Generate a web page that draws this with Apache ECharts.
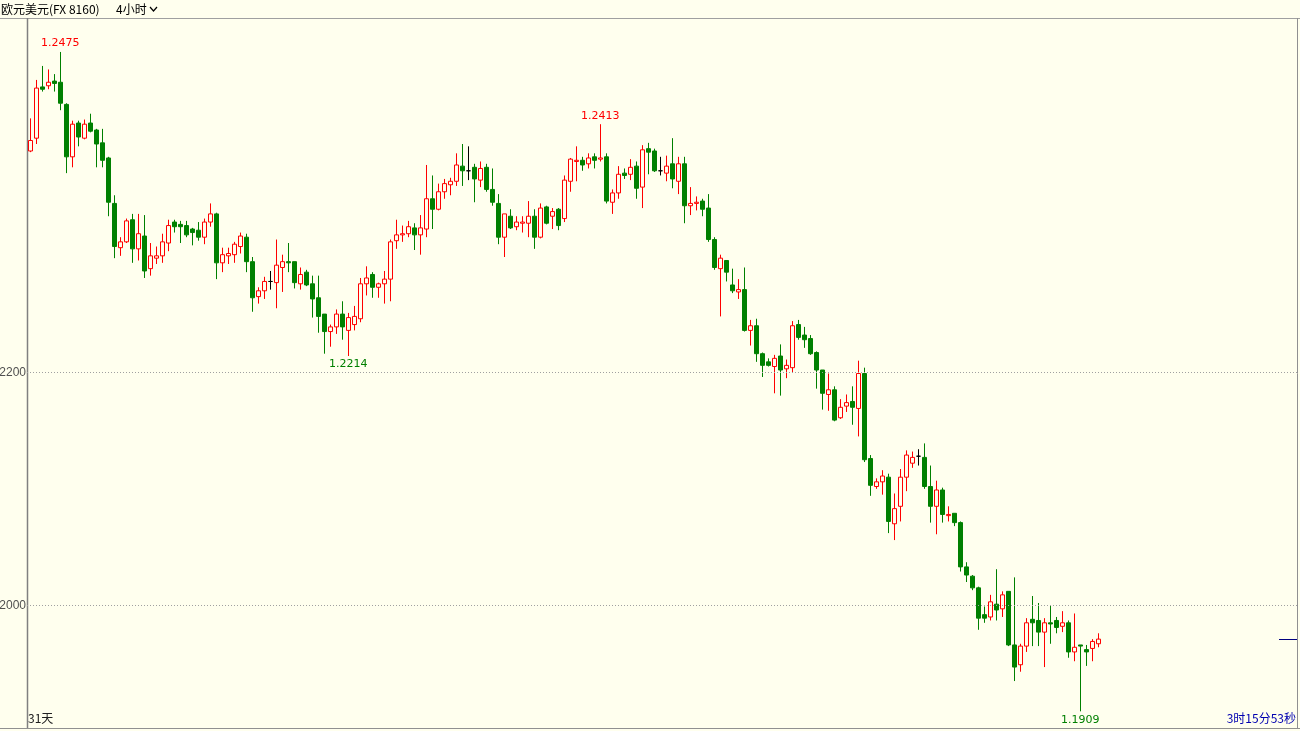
<!DOCTYPE html>
<html><head><meta charset="utf-8">
<script src="https://cdn.jsdelivr.net/npm/echarts@6/dist/echarts.min.js"></script>
<style>html,body{margin:0;padding:0;background:#FFFFEE;overflow:hidden}#c{width:1300px;height:731px}</style>
</head><body><div id="c"></div>
<script>
// ---- data (EUR/USD, 4h candles) ----
const opens = [
1.2390,1.2401,1.2445,1.2446,1.2450,1.2449,1.2430,1.2385,1.2414,1.2401,
1.2414,1.2408,1.2397,1.2384,1.2345,1.2307,1.2312,1.2331,1.2306,1.2317,
1.2289,1.2298,1.2300,1.2311,1.2329,1.2327,1.2326,1.2323,1.2322,1.2316,
1.2329,1.2336,1.2294,1.2300,1.2301,1.2308,1.2316,1.2295,1.2265,1.2270,
1.2278,1.2277,1.2290,1.2295,1.2295,1.2276,1.2286,1.2276,1.2264,1.2250,
1.2235,1.2239,1.2250,1.2236,1.2241,1.2246,1.2276,1.2284,1.2273,1.2276,
1.2280,1.2313,1.2318,1.2319,1.2324,1.2318,1.2323,1.2349,1.2340,1.2355,
1.2361,1.2364,1.2377,1.2373,1.2376,1.2365,1.2376,1.2357,1.2345,1.2316,
1.2334,1.2325,1.2328,1.2328,1.2334,1.2316,1.2342,1.2334,1.2340,1.2332,
1.2364,1.2381,1.2382,1.2379,1.2385,1.2383,1.2385,1.2346,1.2354,1.2371,
1.2370,1.2377,1.2359,1.2392,1.2390,1.2373,1.2371,1.2379,1.2364,1.2379,
1.2343,1.2345,1.2347,1.2341,1.2314,1.2289,1.2296,1.2275,1.2269,1.2271,
1.2236,1.2240,1.2216,1.2209,1.2205,1.2214,1.2203,1.2204,1.2241,1.2232,
1.2229,1.2217,1.2202,1.2181,1.2185,1.2161,1.2171,1.2175,1.2169,1.2199,
1.2126,1.2102,1.2106,1.2110,1.2070,1.2085,1.2110,1.2122,1.2128,1.2127,
1.2102,1.2085,1.2099,1.2077,1.2079,1.2071,1.2033,1.2025,1.2015,1.1992,
1.1990,1.2001,1.1997,1.2012,1.1966,1.1949,1.1965,1.1988,1.1987,1.1977,
1.1985,1.1987,1.1982,1.1985,1.1960,1.1966,1.1962,1.1963,1.1967];
const closes = [
1.2399,1.2444,1.2443,1.2449,1.2448,1.2431,1.2385,1.2413,1.2402,1.2413,
1.2407,1.2396,1.2382,1.2346,1.2308,1.2312,1.2330,1.2306,1.2319,1.2287,
1.2300,1.2300,1.2312,1.2326,1.2325,1.2325,1.2318,1.2320,1.2316,1.2329,
1.2336,1.2294,1.2301,1.2302,1.2310,1.2317,1.2295,1.2264,1.2270,1.2278,
1.2278,1.2292,1.2295,1.2294,1.2277,1.2284,1.2275,1.2263,1.2248,1.2235,
1.2239,1.2250,1.2239,1.2247,1.2248,1.2276,1.2281,1.2273,1.2276,1.2280,
1.2312,1.2318,1.2319,1.2325,1.2318,1.2324,1.2349,1.2340,1.2355,1.2362,
1.2364,1.2378,1.2373,1.2373,1.2366,1.2375,1.2357,1.2346,1.2316,1.2336,
1.2324,1.2329,1.2329,1.2334,1.2316,1.2341,1.2328,1.2338,1.2326,1.2365,
1.2383,1.2382,1.2378,1.2384,1.2382,1.2384,1.2347,1.2354,1.2370,1.2369,
1.2376,1.2358,1.2391,1.2389,1.2373,1.2373,1.2377,1.2366,1.2379,1.2343,
1.2345,1.2346,1.2340,1.2314,1.2290,1.2298,1.2286,1.2270,1.2271,1.2236,
1.2240,1.2216,1.2206,1.2206,1.2212,1.2202,1.2206,1.2240,1.2230,1.2228,
1.2216,1.2202,1.2182,1.2185,1.2159,1.2170,1.2174,1.2170,1.2199,1.2125,
1.2103,1.2106,1.2111,1.2072,1.2083,1.2110,1.2129,1.2127,1.2128,1.2102,
1.2085,1.2099,1.2078,1.2078,1.2071,1.2033,1.2026,1.2015,1.1989,1.1989,
1.2003,1.1996,1.2009,1.1966,1.1947,1.1965,1.1985,1.1985,1.1977,1.1985,
1.1984,1.1981,1.1985,1.1960,1.1964,1.1965,1.1960,1.1969,1.1971];
const lows = [
1.2389,1.2396,1.2441,1.2443,1.2441,1.2425,1.2371,1.2376,1.2394,1.2400,
1.2406,1.2376,1.2376,1.2334,1.2298,1.2300,1.2311,1.2294,1.2296,1.2281,
1.2283,1.2293,1.2294,1.2304,1.2320,1.2311,1.2316,1.2309,1.2313,1.2310,
1.2325,1.2280,1.2286,1.2293,1.2294,1.2302,1.2286,1.2252,1.2259,1.2263,
1.2271,1.2255,1.2269,1.2286,1.2272,1.2271,1.2274,1.2247,1.2234,1.2216,
1.2222,1.2233,1.2228,1.2214,1.2236,1.2243,1.2266,1.2264,1.2264,1.2259,
1.2261,1.2306,1.2312,1.2316,1.2305,1.2301,1.2316,1.2323,1.2339,1.2349,
1.2352,1.2360,1.2360,1.2365,1.2346,1.2359,1.2355,1.2343,1.2310,1.2299,
1.2323,1.2322,1.2320,1.2316,1.2306,1.2315,1.2327,1.2323,1.2322,1.2329,
1.2355,1.2364,1.2373,1.2375,1.2375,1.2381,1.2345,1.2336,1.2349,1.2366,
1.2365,1.2349,1.2341,1.2370,1.2372,1.2369,1.2364,1.2358,1.2353,1.2328,
1.2335,1.2339,1.2334,1.2312,1.2288,1.2248,1.2278,1.2268,1.2263,1.2235,
1.2223,1.2209,1.2196,1.2205,1.2182,1.2180,1.2195,1.2200,1.2228,1.2221,
1.2215,1.2186,1.2168,1.2167,1.2158,1.2160,1.2166,1.2155,1.2145,1.2123,
1.2094,1.2100,1.2095,1.2062,1.2056,1.2072,1.2098,1.2118,1.2120,1.2100,
1.2071,1.2061,1.2071,1.2072,1.2068,1.2029,1.2020,1.2013,1.1979,1.1985,
1.1987,1.1987,1.1990,1.1965,1.1935,1.1943,1.1960,1.1965,1.1965,1.1947,
1.1967,1.1976,1.1977,1.1955,1.1952,1.1909,1.1948,1.1952,1.1964];
const highs = [
1.2418,1.2451,1.2463,1.2460,1.2456,1.2475,1.2431,1.2416,1.2416,1.2417,
1.2422,1.2409,1.2409,1.2385,1.2352,1.2316,1.2332,1.2336,1.2336,1.2335,
1.2311,1.2308,1.2319,1.2331,1.2331,1.2330,1.2330,1.2324,1.2329,1.2332,
1.2345,1.2337,1.2307,1.2307,1.2312,1.2320,1.2319,1.2299,1.2273,1.2282,
1.2287,1.2314,1.2301,1.2311,1.2295,1.2290,1.2288,1.2283,1.2283,1.2250,
1.2241,1.2254,1.2261,1.2251,1.2257,1.2281,1.2291,1.2286,1.2277,1.2287,
1.2314,1.2331,1.2326,1.2330,1.2328,1.2335,1.2378,1.2369,1.2362,1.2366,
1.2367,1.2388,1.2396,1.2394,1.2379,1.2381,1.2379,1.2375,1.2353,1.2336,
1.2340,1.2334,1.2334,1.2347,1.2340,1.2345,1.2343,1.2341,1.2341,1.2369,
1.2384,1.2394,1.2385,1.2388,1.2388,1.2413,1.2388,1.2357,1.2377,1.2375,
1.2383,1.2381,1.2395,1.2397,1.2392,1.2385,1.2386,1.2401,1.2385,1.2385,
1.2359,1.2351,1.2349,1.2353,1.2316,1.2301,1.2296,1.2289,1.2280,1.2290,
1.2245,1.2246,1.2217,1.2212,1.2215,1.2224,1.2211,1.2244,1.2245,1.2239,
1.2232,1.2218,1.2202,1.2199,1.2188,1.2177,1.2181,1.2188,1.2210,1.2204,
1.2129,1.2109,1.2116,1.2113,1.2096,1.2117,1.2133,1.2132,1.2134,1.2139,
1.2120,1.2107,1.2101,1.2085,1.2079,1.2072,1.2037,1.2026,1.2016,1.1999,
1.2009,1.2031,1.2012,1.2012,1.2024,1.1967,1.1989,1.2008,1.2002,1.1989,
1.2000,1.1990,1.1995,1.1987,1.1993,1.1966,1.1966,1.1971,1.1976];
const gridLevels = [1.2200, 1.2000];       // dotted price lines
const highMarkIdx = [5, 95];                // labelled swing highs
const lowMarkIdx = [53, 175];               // labelled swing lows
const titleText = '欧元美元(FX 8160)';
const periodText = '4小时';
const spanText = '31天';
const countdownText = '3时15分53秒';

const BG = '#FFFFEE';
const SLOTS = 211;
const YMIN = 1.18947, YMAX = 1.25033;
const kdata = opens.map((o, i) => [o, closes[i], lows[i], highs[i]]);

const chart = echarts.init(document.getElementById('c'));
const labelFont = {fontFamily: 'DejaVu Sans', fontSize: 11};
chart.setOption({
  backgroundColor: BG,
  animation: false,
  grid: [
    {left: 27.3, top: 19, width: 1266, height: 709},
    {left: 27, top: 19, width: 1270, height: 709}
  ],
  xAxis: [
    {type: 'category', gridIndex: 0, max: SLOTS - 1, boundaryGap: true, show: false},
    {type: 'value', gridIndex: 1, min: 0, max: 1, show: false}
  ],
  yAxis: [
    {type: 'value', gridIndex: 0, min: YMIN, max: YMAX, show: false, splitLine: {show: false}},
    {type: 'value', gridIndex: 1, min: YMIN, max: YMAX, show: false, splitLine: {show: false}}
  ],
  series: [
    {
      type: 'line', xAxisIndex: 1, yAxisIndex: 1, data: [], silent: true,
      markLine: {
        symbol: 'none', silent: true, animation: false,
        lineStyle: {type: [1, 2], color: '#A0A0A0', width: 1},
        label: {position: 'start', distance: 1, color: '#505050', fontFamily: 'Liberation Sans', fontSize: 12,
                formatter: p => p.value.toFixed(4)},
        data: gridLevels.map(v => ({yAxis: v}))
      }
    },
    {
      type: 'candlestick', xAxisIndex: 0, yAxisIndex: 0, data: kdata, barWidth: 4,
      itemStyle: {color: BG, color0: '#008000', borderColor: '#FF0000', borderColor0: '#008000',
                  borderColorDoji: '#000000', borderWidth: 1},
      markPoint: {
        symbol: 'circle', symbolSize: 0, silent: true, animation: false,
        data: [
          ...highMarkIdx.map(i => ({coord: [i, highs[i]], value: highs[i].toFixed(4),
             label: {show: true, position: 'top', distance: 3, color: '#FF0000', ...labelFont, formatter: '{c}'}})),
          ...lowMarkIdx.map(i => ({coord: [i, lows[i]], value: lows[i].toFixed(4),
             label: {show: true, position: 'bottom', distance: 3, color: '#008000', ...labelFont, formatter: '{c}'}}))
        ]
      }
    }
  ]
});

const lastY = chart.convertToPixel({yAxisIndex: 0}, closes[closes.length - 1]);
chart.setOption({
  graphic: [
    {type: 'line', shape: {x1: 0, y1: 18.5, x2: 1300, y2: 18.5}, style: {stroke: '#A0A0A0', lineWidth: 1}},
    {type: 'line', shape: {x1: 27.5, y1: 18, x2: 27.5, y2: 729}, style: {stroke: '#808080', lineWidth: 1.5}},
    {type: 'line', shape: {x1: 1297.5, y1: 18, x2: 1297.5, y2: 729}, style: {stroke: '#909090', lineWidth: 1}},
    {type: 'line', shape: {x1: 0, y1: 728.5, x2: 1300, y2: 728.5}, style: {stroke: '#909090', lineWidth: 1}},
    {type: 'text', left: 1, top: 3, style: {text: titleText, fill: '#000', font: '12px "Noto Sans CJK SC"'}},
    {type: 'text', left: 116, top: 3, style: {text: periodText, fill: '#000', font: '12px "Noto Sans CJK SC"'}},
    {type: 'polyline', shape: {points: [[150, 7], [153.5, 11], [157, 7]]}, style: {stroke: '#000', lineWidth: 1.2, fill: null}},
    {type: 'text', left: 28, top: 712, style: {text: spanText, fill: '#202020', font: '12px "Noto Sans CJK SC"'}},
    {type: 'text', right: 4, top: 712, style: {text: countdownText, fill: '#0000B0', font: '12px "Noto Sans CJK SC"'}},
    {type: 'line', shape: {x1: 1279, y1: Math.round(lastY) + 0.5, x2: 1297, y2: Math.round(lastY) + 0.5}, style: {stroke: '#000080', lineWidth: 1}}
  ]
});
</script>
</body></html>
